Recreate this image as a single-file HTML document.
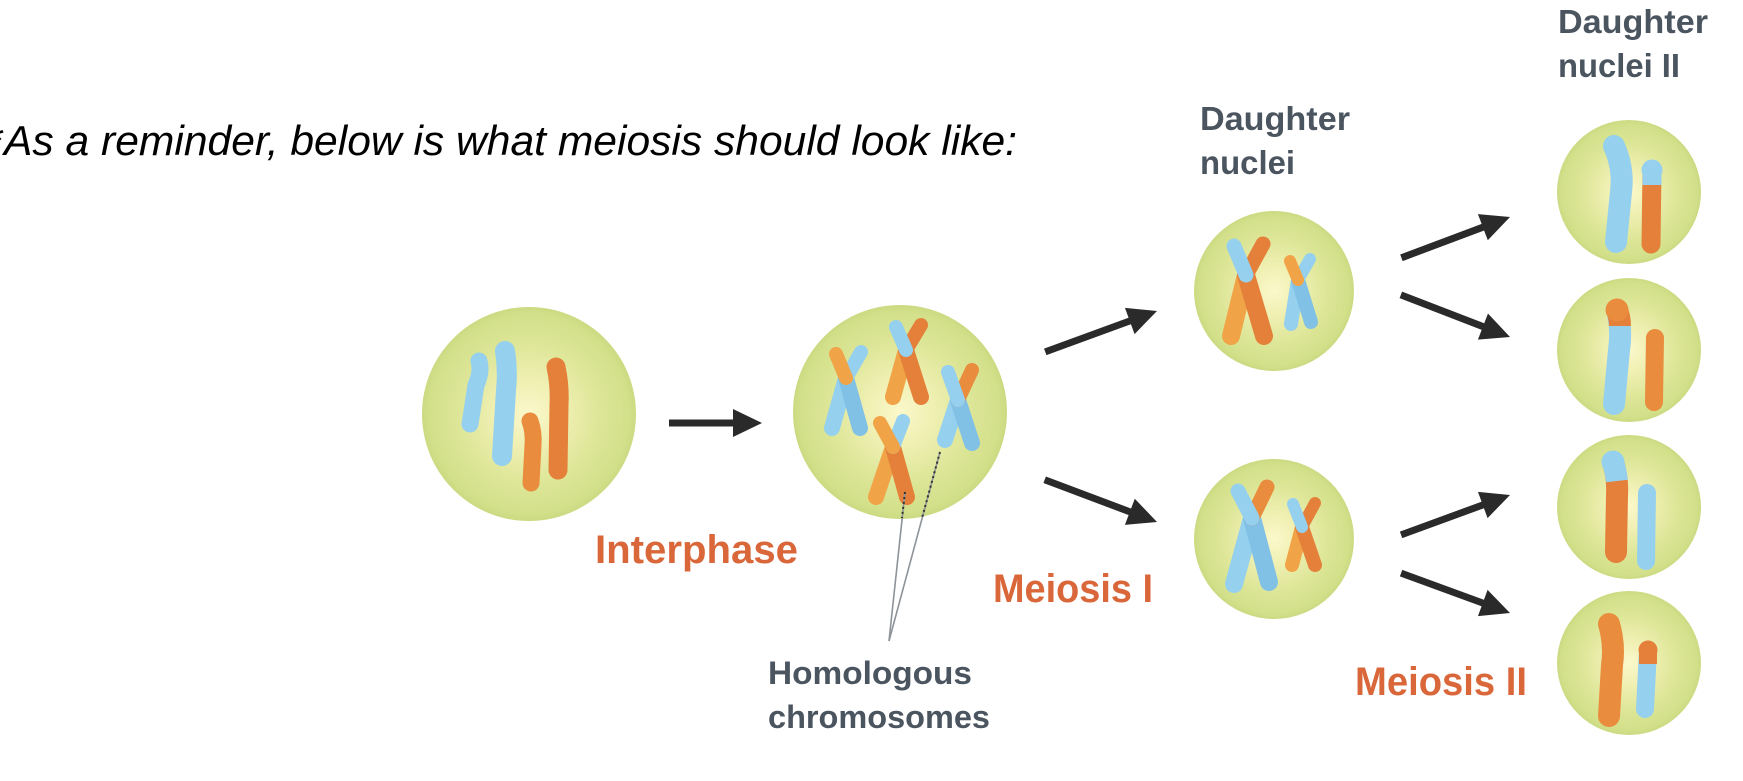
<!DOCTYPE html>
<html>
<head>
<meta charset="utf-8">
<style>
  html,body{margin:0;padding:0;background:#ffffff;}
  svg{display:block;}
</style>
</head>
<body>
<svg width="1743" height="781" viewBox="0 0 1743 781" xmlns="http://www.w3.org/2000/svg">
  <defs>
    <radialGradient id="cg" cx="50%" cy="50%" r="50%">
      <stop offset="0" stop-color="#fbf8cb"/>
      <stop offset="0.3" stop-color="#f0f0b3"/>
      <stop offset="0.7" stop-color="#dbe595"/>
      <stop offset="0.93" stop-color="#d3e08a"/>
      <stop offset="1" stop-color="#cbdb82"/>
    </radialGradient>
  </defs>

  <rect width="1743" height="781" fill="#ffffff"/>

  <!-- Top sentence -->
  <text x="-14" y="155" font-family="Liberation Sans, sans-serif" font-style="italic" font-size="42" fill="#000">*</text>
  <text x="4" y="155" font-family="Liberation Sans, sans-serif" font-style="italic" font-size="42" fill="#000" textLength="1013" lengthAdjust="spacingAndGlyphs">As a reminder, below is what meiosis should look like:</text>

  <!-- Cells -->
  <circle cx="529" cy="414" r="107" fill="url(#cg)"/>
  <circle cx="900" cy="412" r="107" fill="url(#cg)"/>
  <circle cx="1274" cy="291" r="80" fill="url(#cg)"/>
  <circle cx="1274" cy="539" r="80" fill="url(#cg)"/>
  <circle cx="1629" cy="192" r="72" fill="url(#cg)"/>
  <circle cx="1629" cy="350" r="72" fill="url(#cg)"/>
  <circle cx="1629" cy="507" r="72" fill="url(#cg)"/>
  <circle cx="1629" cy="663" r="72" fill="url(#cg)"/>

  <!-- Cell 1 chromosomes (interphase) -->
  <g fill="none" stroke-linecap="round" stroke-linejoin="round">
    <path d="M479,361 Q482,372 476,385 L470,424" stroke="#95d0ee" stroke-width="17"/>
    <path d="M505,351 Q508,370 506,390 L502,456" stroke="#95d0ee" stroke-width="20"/>
    <path d="M556,367 Q560,385 559,405 L558,470" stroke="#e4803a" stroke-width="19"/>
    <path d="M530,421 Q534,432 533,445 L531,483" stroke="#e98c3e" stroke-width="17"/>
  </g>

  <!-- Cell 2 X chromosomes -->
  <g fill="none" stroke-linecap="round">
    <!-- X1 -->
    <line x1="846" y1="378" x2="832" y2="428" stroke="#95d0ee" stroke-width="16"/>
    <line x1="846" y1="378" x2="860" y2="428" stroke="#80c1e5" stroke-width="16"/>
    <line x1="846" y1="378" x2="861" y2="352" stroke="#95d0ee" stroke-width="14"/>
    <line x1="846" y1="378" x2="836" y2="354" stroke="#f0a447" stroke-width="14"/>
    <!-- X2 -->
    <line x1="906" y1="350" x2="893" y2="397" stroke="#f0a447" stroke-width="16"/>
    <line x1="906" y1="350" x2="921" y2="397" stroke="#e4803a" stroke-width="16"/>
    <line x1="906" y1="350" x2="921" y2="325" stroke="#e4803a" stroke-width="14"/>
    <line x1="906" y1="350" x2="896" y2="327" stroke="#95d0ee" stroke-width="14"/>
    <!-- X3 -->
    <line x1="958" y1="400" x2="945" y2="440" stroke="#95d0ee" stroke-width="16"/>
    <line x1="958" y1="400" x2="972" y2="443" stroke="#80c1e5" stroke-width="16"/>
    <line x1="958" y1="400" x2="972" y2="370" stroke="#e98c3e" stroke-width="14"/>
    <line x1="958" y1="400" x2="948" y2="372" stroke="#95d0ee" stroke-width="14"/>
    <!-- X4 -->
    <line x1="893" y1="447" x2="876" y2="497" stroke="#f0a447" stroke-width="16"/>
    <line x1="893" y1="447" x2="907" y2="497" stroke="#e4803a" stroke-width="16"/>
    <line x1="893" y1="447" x2="903" y2="421" stroke="#95d0ee" stroke-width="14"/>
    <line x1="893" y1="447" x2="880" y2="423" stroke="#f0a447" stroke-width="14"/>
  </g>

  <!-- Pointer lines -->
  <g fill="none">
    <line x1="905" y1="492" x2="889" y2="641" stroke="#8d9398" stroke-width="1.6"/>
    <line x1="940" y1="452" x2="889" y2="641" stroke="#8d9398" stroke-width="1.6"/>
    <line x1="905" y1="492" x2="902" y2="518" stroke="#333" stroke-width="2" stroke-dasharray="2,3"/>
    <line x1="940" y1="452" x2="922" y2="518" stroke="#333" stroke-width="2" stroke-dasharray="2,3"/>
  </g>

  <!-- Cell 3 X chromosomes -->
  <g fill="none" stroke-linecap="round">
    <line x1="1246" y1="275" x2="1231" y2="336" stroke="#f0a447" stroke-width="18"/>
    <line x1="1246" y1="275" x2="1264" y2="336" stroke="#e4803a" stroke-width="18"/>
    <line x1="1246" y1="275" x2="1263" y2="244" stroke="#e4803a" stroke-width="15"/>
    <line x1="1246" y1="275" x2="1234" y2="246" stroke="#95d0ee" stroke-width="15"/>

    <line x1="1298" y1="280" x2="1291" y2="324" stroke="#95d0ee" stroke-width="14"/>
    <line x1="1298" y1="280" x2="1311" y2="322" stroke="#80c1e5" stroke-width="14"/>
    <line x1="1298" y1="280" x2="1310" y2="259" stroke="#95d0ee" stroke-width="12"/>
    <line x1="1298" y1="280" x2="1290" y2="261" stroke="#f0a447" stroke-width="12"/>
  </g>

  <!-- Cell 4 X chromosomes -->
  <g fill="none" stroke-linecap="round">
    <line x1="1252" y1="518" x2="1234" y2="584" stroke="#95d0ee" stroke-width="18"/>
    <line x1="1252" y1="518" x2="1269" y2="582" stroke="#80c1e5" stroke-width="18"/>
    <line x1="1252" y1="518" x2="1267" y2="487" stroke="#e98c3e" stroke-width="15"/>
    <line x1="1252" y1="518" x2="1238" y2="491" stroke="#95d0ee" stroke-width="15"/>

    <line x1="1302" y1="527" x2="1292" y2="565" stroke="#f0a447" stroke-width="14"/>
    <line x1="1302" y1="527" x2="1315" y2="565" stroke="#e4803a" stroke-width="14"/>
    <line x1="1302" y1="527" x2="1315" y2="503" stroke="#e4803a" stroke-width="12"/>
    <line x1="1302" y1="527" x2="1293" y2="504" stroke="#95d0ee" stroke-width="12"/>
  </g>

  <!-- Right cells chromosomes -->
  <g fill="none" stroke-linecap="round" stroke-linejoin="round">
    <!-- A -->
    <path d="M1614,146 Q1624,168 1621,192 L1616,242" stroke="#95d0ee" stroke-width="22"/>
    <line x1="1652" y1="170" x2="1651" y2="244" stroke="#e4803a" stroke-width="19"/>
    <line x1="1652" y1="170" x2="1652" y2="185" stroke="#95d0ee" stroke-width="19" stroke-linecap="butt"/>
    <circle cx="1652" cy="170" r="10.5" fill="#95d0ee" stroke="none"/>
    <!-- B -->
    <path d="M1617,310 Q1622,330 1619,350 L1614,404" stroke="#95d0ee" stroke-width="22"/>
    <path d="M1617,310 Q1620,318 1620,326" stroke="#e4803a" stroke-width="22" stroke-linecap="butt"/>
    <circle cx="1617" cy="310" r="11.5" fill="#e98c3e" stroke="none"/>
    <line x1="1655" y1="338" x2="1654" y2="402" stroke="#e98c3e" stroke-width="18"/>
    <!-- C -->
    <path d="M1613,462 Q1618,478 1617,495 L1616,552" stroke="#e4803a" stroke-width="22"/>
    <path d="M1613,462 Q1616,472 1617,481" stroke="#95d0ee" stroke-width="22" stroke-linecap="butt"/>
    <circle cx="1613" cy="462" r="11.5" fill="#95d0ee" stroke="none"/>
    <line x1="1647" y1="493" x2="1646" y2="561" stroke="#95d0ee" stroke-width="18"/>
    <!-- D -->
    <path d="M1609,624 Q1615,645 1612,665 L1609,716" stroke="#e98c3e" stroke-width="22"/>
    <line x1="1648" y1="650" x2="1645" y2="709" stroke="#95d0ee" stroke-width="18"/>
    <line x1="1648" y1="650" x2="1648" y2="664" stroke="#e4803a" stroke-width="18" stroke-linecap="butt"/>
    <circle cx="1648" cy="650" r="9.5" fill="#e4803a" stroke="none"/>
  </g>

  <!-- Arrows -->
  <g fill="#2a2a2a" stroke="#2a2a2a">
    <g transform="translate(762,423) rotate(0)">
      <line x1="-93" y1="0" x2="-20" y2="0" stroke-width="7"/>
      <polygon points="0,0 -29,-14 -29,14" stroke="none"/>
    </g>
    <g transform="translate(1157,311) rotate(-20.1)">
      <line x1="-119" y1="0" x2="-20" y2="0" stroke-width="7"/>
      <polygon points="0,0 -29,-14 -29,14" stroke="none"/>
    </g>
    <g transform="translate(1157,522) rotate(20.6)">
      <line x1="-120" y1="0" x2="-20" y2="0" stroke-width="7"/>
      <polygon points="0,0 -29,-14 -29,14" stroke="none"/>
    </g>
    <g transform="translate(1510,217) rotate(-20.6)">
      <line x1="-116" y1="0" x2="-20" y2="0" stroke-width="7"/>
      <polygon points="0,0 -29,-14 -29,14" stroke="none"/>
    </g>
    <g transform="translate(1510,337) rotate(21.1)">
      <line x1="-117" y1="0" x2="-20" y2="0" stroke-width="7"/>
      <polygon points="0,0 -29,-14 -29,14" stroke="none"/>
    </g>
    <g transform="translate(1510,495) rotate(-20.1)">
      <line x1="-116" y1="0" x2="-20" y2="0" stroke-width="7"/>
      <polygon points="0,0 -29,-14 -29,14" stroke="none"/>
    </g>
    <g transform="translate(1510,613) rotate(20.1)">
      <line x1="-116" y1="0" x2="-20" y2="0" stroke-width="7"/>
      <polygon points="0,0 -29,-14 -29,14" stroke="none"/>
    </g>
  </g>

  <!-- Labels -->
  <g font-family="Liberation Sans, sans-serif" font-weight="bold">
    <text x="595" y="563" font-size="40" fill="#d9673a" textLength="203" lengthAdjust="spacingAndGlyphs">Interphase</text>
    <text x="993" y="602" font-size="40" fill="#d9673a" textLength="160" lengthAdjust="spacingAndGlyphs">Meiosis I</text>
    <text x="1355" y="695" font-size="40" fill="#d9673a" textLength="172" lengthAdjust="spacingAndGlyphs">Meiosis II</text>

    <text x="768" y="684" font-size="32" fill="#4b5560" textLength="204" lengthAdjust="spacingAndGlyphs">Homologous</text>
    <text x="768" y="728" font-size="32" fill="#4b5560" textLength="222" lengthAdjust="spacingAndGlyphs">chromosomes</text>

    <text x="1200" y="130" font-size="33" fill="#4b5560" textLength="150" lengthAdjust="spacingAndGlyphs">Daughter</text>
    <text x="1200" y="174" font-size="33" fill="#4b5560" textLength="95" lengthAdjust="spacingAndGlyphs">nuclei</text>

    <text x="1558" y="33" font-size="33" fill="#4b5560" textLength="150" lengthAdjust="spacingAndGlyphs">Daughter</text>
    <text x="1558" y="77" font-size="33" fill="#4b5560" textLength="122" lengthAdjust="spacingAndGlyphs">nuclei II</text>
  </g>
</svg>
</body>
</html>
